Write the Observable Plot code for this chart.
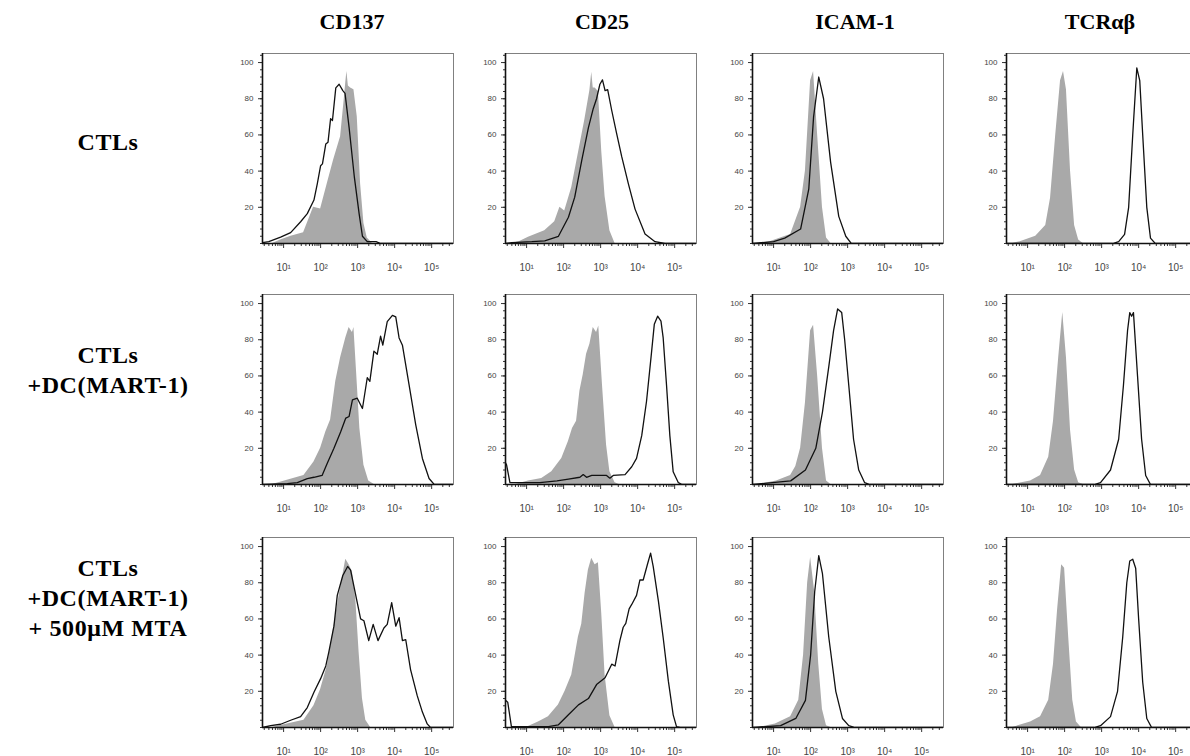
<!DOCTYPE html>
<html><head><meta charset="utf-8">
<script src="https://cdn.jsdelivr.net/npm/d3@7"></script>
<script src="https://cdn.jsdelivr.net/npm/@observablehq/plot@0.6"></script>
<style>
html,body{margin:0;padding:0;background:#fff;overflow:hidden;}
#wrap{position:relative;width:1190px;height:756px;overflow:hidden;font-family:"Liberation Serif","Times New Roman",serif;color:#000;}
.title{position:absolute;font-weight:bold;font-size:22px;transform:translate(-50%,-50%);white-space:nowrap;}
.rowlab{position:absolute;font-weight:bold;font-size:24px;letter-spacing:0.6px;text-align:center;line-height:30px;transform:translate(-50%,-50%);white-space:nowrap;}
.panel{position:absolute;}
</style></head><body><div id="wrap"></div>
<script>
// ---- labels ----
const markers = ["CD137", "CD25", "ICAM-1", "TCRαβ"];
const conditions = [["CTLs"], ["CTLs", "+DC(MART-1)"], ["CTLs", "+DC(MART-1)", "+ 500μM MTA"]];
const yTicks = [20, 40, 60, 80, 100];
const xTicks = [10, 100, 1000, 10000, 100000];

// ---- data: [log10 fluorescence, % of max] ----
// row 1: CTLs
const cd137_ctl_iso = [[0.7,0],[0.92,2],[1.2,4],[1.54,6],[1.81,20],[2.0,19],[2.18,33],[2.35,46],[2.54,59],[2.64,80],[2.68,89],[2.71,95],[2.75,87],[2.81,86],[2.9,85],[2.99,70],[3.08,33],[3.17,11],[3.26,3],[3.4,0]];
const cd137_ctl_stain = [[0.43,0.5],[0.6,1],[0.92,3.5],[1.19,6],[1.46,12],[1.64,16.5],[1.82,24],[1.91,33],[2.0,43],[2.05,44],[2.14,55],[2.2,56],[2.27,69],[2.32,68],[2.41,86],[2.5,88],[2.6,84.5],[2.66,83],[2.77,64],[2.91,37],[3.04,16.5],[3.13,4],[3.26,1],[3.5,1],[3.62,0],[5.6,0]];
const cd25_ctl_iso = [[0.6,0],[0.8,1],[1.05,3.5],[1.49,7],[1.76,12],[1.9,20],[2.03,18],[2.22,31],[2.4,50],[2.57,68],[2.71,84.5],[2.76,94.6],[2.8,86],[2.85,86],[2.94,84],[3.03,51],[3.12,26],[3.25,7],[3.39,0]];
const cd25_ctl_stain = [[0.43,0],[0.6,0.5],[1.14,1],[1.49,1.5],[1.86,4],[2.13,14.5],[2.3,25.6],[2.49,46],[2.67,64],[2.8,74.5],[2.89,80],[2.98,88],[3.05,90.4],[3.12,84.5],[3.19,85],[3.3,73.5],[3.43,61],[3.57,48],[3.75,33],[3.93,19],[4.2,5.3],[4.47,1],[4.74,0],[5.6,0]];
const icam_ctl_iso = [[0.6,0],[0.9,1],[1.46,5],[1.73,20],[1.86,40],[2.0,90],[2.08,95],[2.19,60],[2.32,20],[2.43,3],[2.55,0]];
const icam_ctl_stain = [[0.43,0],[1.0,1],[1.3,3],[1.73,8],[1.95,30],[2.08,70],[2.22,92],[2.35,80],[2.54,45],[2.76,15],[2.95,4],[3.1,0],[5.6,0]];
const tcr_ctl_iso = [[0.6,0],[0.8,1],[1.22,4],[1.49,10],[1.62,25],[1.76,60],[1.89,90],[1.97,95],[2.05,85],[2.16,40],[2.27,10],[2.38,2],[2.5,0]];
const tcr_ctl_stain = [[0.43,0],[3.3,0],[3.46,1],[3.62,5],[3.73,20],[3.84,60],[3.95,97],[4.03,90],[4.11,60],[4.22,20],[4.32,3],[4.45,0],[5.6,0]];
// row 2: CTLs + DC(MART-1)
const cd137_dc_iso = [[0.7,0],[1.1,2.4],[1.55,5],[1.82,12.5],[2.0,20],[2.14,29],[2.27,35.7],[2.41,57],[2.54,70],[2.68,81],[2.77,86.7],[2.86,84],[2.9,86.7],[2.97,62.7],[3.06,31],[3.17,10.7],[3.3,2],[3.45,0]];
const cd137_dc_stain = [[0.43,0],[1.1,0.5],[1.37,1],[1.64,3.3],[1.82,4],[2.04,5],[2.18,11.7],[2.36,20],[2.54,29],[2.68,36.7],[2.77,37.6],[2.86,46.8],[2.99,47.7],[3.13,42],[3.26,59],[3.33,57],[3.44,73.7],[3.53,72],[3.62,82],[3.68,77],[3.8,90],[3.94,93.5],[4.03,92.6],[4.12,81],[4.21,77],[4.39,55],[4.57,33],[4.75,14.4],[4.93,3.3],[5.07,0],[5.6,0]];
const cd25_dc_iso = [[0.7,0],[1.05,2],[1.41,3.3],[1.68,7],[1.95,14.4],[2.13,23.7],[2.24,31],[2.35,35],[2.44,51.5],[2.53,60.7],[2.62,72],[2.71,77.5],[2.8,86.7],[2.89,84],[2.95,87.6],[3.05,55],[3.16,21.8],[3.25,7],[3.39,1],[3.5,0]];
const cd25_dc_stain = [[0.43,12],[0.46,10.7],[0.55,1],[1.36,1],[1.82,2],[2.13,3],[2.44,4],[2.53,5.5],[2.62,4],[2.76,5],[3.16,5],[3.25,3.5],[3.34,5],[3.66,5.5],[3.84,9.8],[3.97,14.4],[4.11,27],[4.24,46],[4.36,70],[4.45,88.5],[4.54,93],[4.63,90.3],[4.69,81],[4.78,55],[4.87,27],[4.96,7],[5.1,1],[5.2,0],[5.6,0]];
const icam_dc_iso = [[0.6,0],[1.08,2],[1.46,5],[1.6,10],[1.73,20],[1.86,45],[2.0,85],[2.08,88],[2.19,60],[2.32,20],[2.43,2],[2.55,0]];
const icam_dc_stain = [[0.43,0],[1.46,2],[1.86,8],[2.14,20],[2.32,40],[2.49,65],[2.62,85],[2.73,97],[2.84,95],[2.92,80],[3.03,55],[3.16,25],[3.3,8],[3.46,1],[3.6,0],[5.6,0]];
const tcr_dc_iso = [[0.6,0],[1.08,2],[1.35,5],[1.57,15],[1.7,35],[1.84,70],[1.95,95],[2.05,70],[2.16,30],[2.27,8],[2.38,1],[2.5,0]];
const tcr_dc_stain = [[0.43,0],[2.8,0],[2.97,1],[3.24,8],[3.46,25],[3.59,55],[3.7,85],[3.76,95],[3.81,93],[3.86,95],[3.97,60],[4.08,25],[4.19,5],[4.32,0],[5.6,0]];
// row 3: CTLs + DC(MART-1) + 500 µM MTA
const cd137_mta_iso = [[0.7,0],[1.1,2],[1.55,4],[1.82,12],[2.0,21],[2.18,34],[2.36,56],[2.5,73],[2.6,84],[2.68,93],[2.77,90],[2.86,86],[2.95,71],[3.04,41.5],[3.13,16],[3.22,4],[3.35,0]];
const cd137_mta_stain = [[0.43,0],[0.65,1],[0.92,1.8],[1.19,4],[1.46,6],[1.64,11],[1.82,19.5],[2.0,27],[2.14,34],[2.22,41.5],[2.36,56],[2.45,73],[2.6,84],[2.73,89],[2.81,87],[2.9,78],[2.99,69],[3.08,60],[3.17,59],[3.3,48],[3.42,57],[3.55,48],[3.71,55],[3.8,57],[3.92,69],[4.03,56],[4.12,60.7],[4.21,48],[4.3,48.5],[4.43,32],[4.61,17.6],[4.75,8.5],[4.88,2],[4.97,0],[5.6,0]];
const cd25_mta_iso = [[0.8,0],[1.05,0.5],[1.32,3],[1.59,6],[1.86,12.5],[2.04,20],[2.22,29],[2.4,50],[2.49,57],[2.58,74],[2.67,87],[2.76,93.6],[2.85,90],[2.94,91],[3.03,63],[3.12,29],[3.25,6.5],[3.39,0]];
const cd25_mta_stain = [[0.43,15],[0.49,14],[0.59,0.5],[1.59,0.5],[1.86,1.5],[2.13,7],[2.4,12.5],[2.67,16],[2.89,23.7],[3.12,27.5],[3.3,35],[3.39,34],[3.52,48],[3.61,55.4],[3.68,57.5],[3.77,65.6],[3.84,68],[3.97,73],[4.06,81.5],[4.15,81.5],[4.26,89.8],[4.35,96.4],[4.42,89],[4.56,70],[4.69,49.6],[4.83,25.6],[4.96,7],[5.05,0.5],[5.15,0],[5.6,0]];
const icam_mta_iso = [[0.6,0],[1.05,2],[1.46,6],[1.68,15],[1.81,40],[1.92,80],[2.0,94],[2.11,75],[2.22,35],[2.32,10],[2.43,1],[2.55,0]];
const icam_mta_stain = [[0.43,0],[1.19,1],[1.6,5],[1.86,15],[2.0,40],[2.11,75],[2.22,95],[2.32,85],[2.49,50],[2.68,20],[2.86,5],[3.03,1],[3.2,0],[5.6,0]];
const tcr_mta_iso = [[0.6,0],[1.08,3],[1.35,6],[1.57,15],[1.7,35],[1.81,65],[1.92,90],[2.0,88],[2.11,50],[2.22,15],[2.32,3],[2.45,0]];
const tcr_mta_stain = [[0.43,0],[2.8,0],[2.97,1],[3.24,6],[3.43,20],[3.57,50],[3.68,80],[3.76,92],[3.84,93],[3.92,88],[4.0,60],[4.11,25],[4.22,5],[4.35,0],[5.6,0]];

const grid = [
  [[cd137_ctl_iso, cd137_ctl_stain], [cd25_ctl_iso, cd25_ctl_stain], [icam_ctl_iso, icam_ctl_stain], [tcr_ctl_iso, tcr_ctl_stain]],
  [[cd137_dc_iso, cd137_dc_stain], [cd25_dc_iso, cd25_dc_stain], [icam_dc_iso, icam_dc_stain], [tcr_dc_iso, tcr_dc_stain]],
  [[cd137_mta_iso, cd137_mta_stain], [cd25_mta_iso, cd25_mta_stain], [icam_mta_iso, icam_mta_stain], [tcr_mta_iso, tcr_mta_stain]]
];

// ---- layout ----
const colLeft = [262, 505, 752, 1006];
const rowTop = [53, 294, 537];
const titleX = [352, 602, 855, 1100];
const rowLabY = [142, 370, 598];
const W = 191, H = 190, ML = 30, MR = 2, MT = 2, MB = 34;
const XMIN = 10 ** 0.43, XMAX = 10 ** 5.59;
const sup = {1: "¹", 2: "²", 3: "³", 4: "⁴", 5: "⁵"};
const xMinor = [];
for (let k = 0; k <= 5; k++) for (let m = 2; m <= 9; m++) { const v = m * 10 ** k; if (v > XMIN && v < XMAX) xMinor.push(v); }
const yMinor = d3.range(0, 105, 4);

function panel(iso, stain) {
  return Plot.plot({
    width: W + ML + MR, height: H + MT + MB,
    marginLeft: ML, marginRight: MR, marginTop: MT, marginBottom: MB,
    x: {type: "log", domain: [XMIN, XMAX], label: null},
    y: {domain: [0, 105], label: null},
    style: {fontFamily: "'Liberation Sans', Arial, sans-serif", color: "#444", background: "transparent", overflow: "visible"},
    marks: [
      Plot.areaY(iso, {x: d => 10 ** d[0], y: d => d[1], fill: "#a9a9a9", clip: true}),
      Plot.lineY(stain, {x: d => 10 ** d[0], y: d => d[1], stroke: "#111", strokeWidth: 1.3, clip: true}),
      Plot.frame({stroke: "#808080", strokeWidth: 1}),
      Plot.axisY(yMinor, {tickSize: 2, tickFormat: () => "", label: null, stroke: "#333"}),
      Plot.axisY(yTicks, {tickSize: 4, tickPadding: 5, fontSize: 8, label: null, stroke: "#333"}),
      Plot.axisX(xMinor, {tickSize: 3, tickFormat: () => "", label: null, stroke: "#333"}),
      Plot.axisX(xTicks, {tickSize: 5, tickPadding: 15, fontSize: 10, label: null, stroke: "#333",
        tickFormat: d => "10" + sup[Math.round(Math.log10(d))]}),
      Plot.ruleX([XMIN], {stroke: "#111", strokeWidth: 1.6}),
      Plot.ruleY([0], {stroke: "#111", strokeWidth: 1.4})
    ]
  });
}

const wrap = document.getElementById("wrap");
markers.forEach((m, c) => {
  const d = document.createElement("div");
  d.className = "title"; d.textContent = m;
  d.style.left = titleX[c] + "px"; d.style.top = "22px";
  wrap.appendChild(d);
});
conditions.forEach((lines, r) => {
  const d = document.createElement("div");
  d.className = "rowlab"; d.innerHTML = lines.join("<br>");
  d.style.left = "108px"; d.style.top = rowLabY[r] + "px";
  wrap.appendChild(d);
});
grid.forEach((row, r) => row.forEach(([iso, stain], c) => {
  const p = panel(iso, stain);
  p.classList.add("panel");
  p.style.left = (colLeft[c] - ML) + "px";
  p.style.top = (rowTop[r] - MT) + "px";
  wrap.appendChild(p);
}));
</script></body></html>
